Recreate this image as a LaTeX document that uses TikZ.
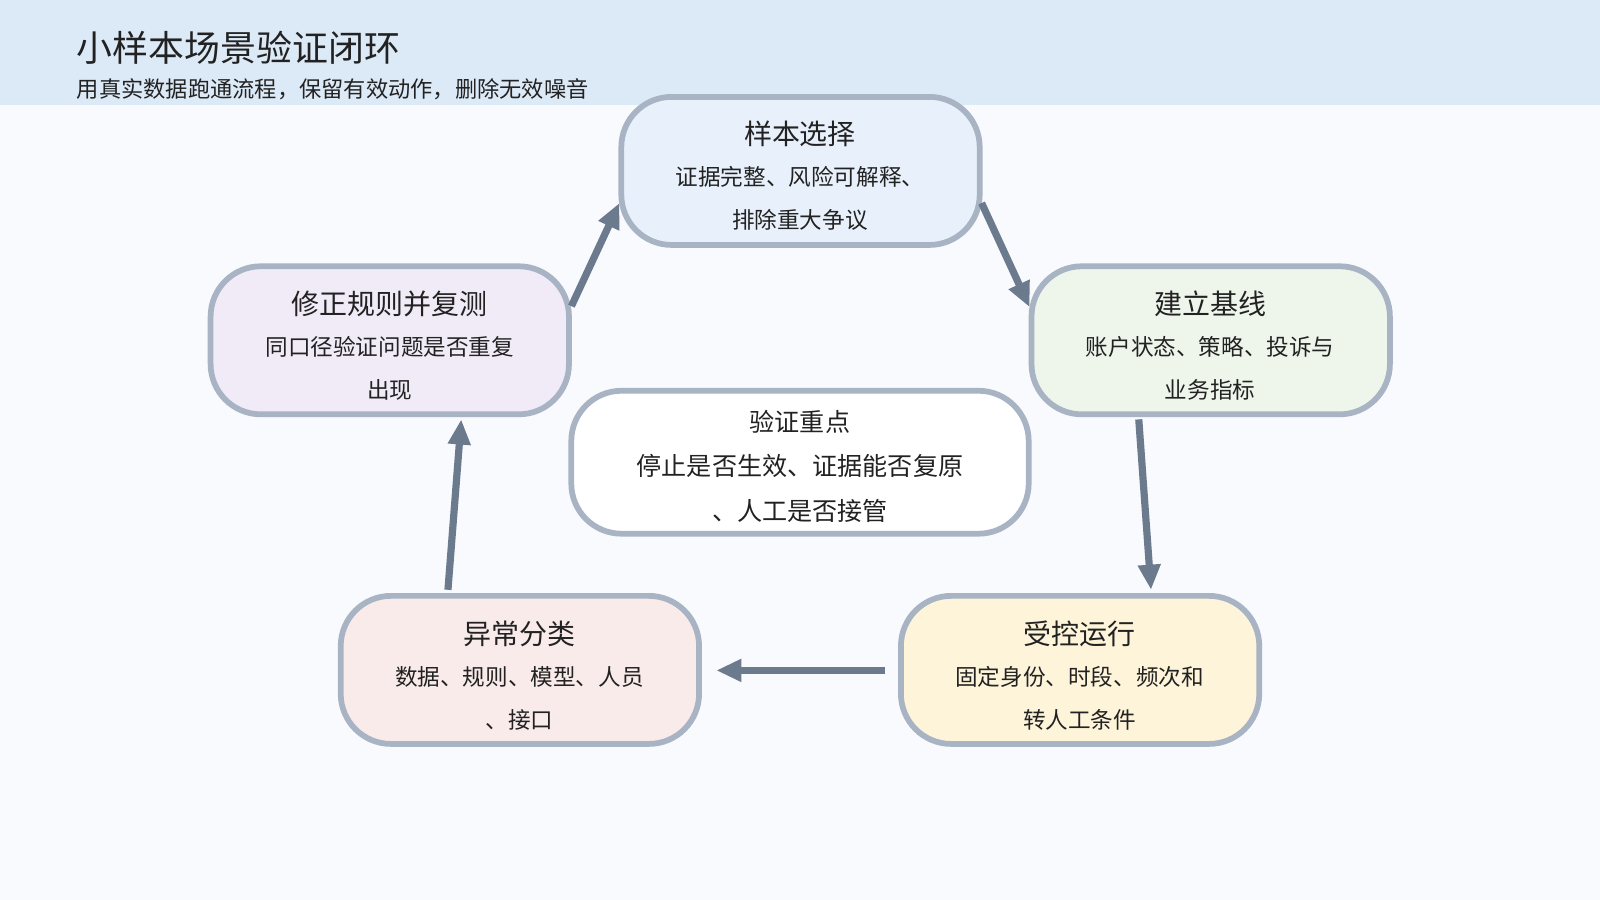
\documentclass[tikz,border=0pt]{standalone}
\usepackage{fontspec}
\setmainfont{Noto Sans CJK SC}
\usetikzlibrary{arrows.meta}
\definecolor{bg}{HTML}{F8FAFD}
\definecolor{band}{HTML}{DCE9F6}
\definecolor{bd}{HTML}{A8B3C3}
\definecolor{ar}{HTML}{6C7A8E}
\definecolor{txt}{HTML}{222222}
\definecolor{fa}{HTML}{E8F1FB}
\definecolor{fbb}{HTML}{EEF6EC}
\definecolor{fc}{HTML}{FEF4DA}
\definecolor{fd}{HTML}{FAEBEB}
\definecolor{fe}{HTML}{F1EBF8}
\tikzset{
 box/.style={draw=bd,line width=1.6pt,rounded corners=14pt,minimum width=3.51cm,minimum height=1.45cm,inner sep=0pt},
 lab/.style={text=txt,align=center,font=\fontsize{6.3pt}{12pt}\selectfont},
 head/.style={text=txt,font=\fontsize{7.8pt}{10pt}\selectfont},
 conn/.style={draw=ar,line width=2pt,-{Triangle[length=7pt,width=6pt]}}
}
\begin{document}
\begin{tikzpicture}[x=0.01cm,y=-0.01cm]
\fill[bg] (0,0) rectangle (1568,882);
\useasboundingbox (0,0) rectangle (1568,882);
\fill[band] (0,0) rectangle (1568,103);
\node[anchor=west,text=txt,font=\fontsize{10pt}{12pt}\selectfont] (title) at (63,47) {小样本场景验证闭环};
\node[anchor=west,text=txt,font=\fontsize{6.2pt}{8pt}\selectfont] (sub) at (63,87) {用真实数据跑通流程，保留有效动作，删除无效噪音};

\node[box,fill=fa] (a) at (784.5,167.5) {};
\node[box,fill=fbb] (b) at (1186.5,333.5) {};
\node[box,fill=fc] (c) at (1058.5,656.5) {};
\node[box,fill=fd] (d) at (509.5,656.5) {};
\node[box,fill=fe] (e) at (382,333.5) {};
\node[box,fill=white,minimum width=4.48cm,minimum height=1.4cm] (f) at (784,453) {};

\node[head] (at) at (784,131) {样本选择};
\node[lab] (ab) at (784,194) {证据完整、风险可解释、\\排除重大争议};
\node[head] (bt) at (1186,298) {建立基线};
\node[lab] (bb) at (1186,361) {账户状态、策略、投诉与\\业务指标};
\node[head] (ct) at (1058,621) {受控运行};
\node[lab] (cb) at (1058,684) {固定身份、时段、频次和\\转人工条件};
\node[head] (dt) at (509,621) {异常分类};
\node[lab] (db) at (509,684) {数据、规则、模型、人员\\、接口};
\node[head] (et) at (382,298) {修正规则并复测};
\node[lab] (eb) at (382,361) {同口径验证问题是否重复\\出现};
\node[lab,font=\fontsize{7pt}{12.5pt}\selectfont] (fb) at (784,457) {验证重点\\停止是否生效、证据能否复原\\、人工是否接管};

\coordinate (e1) at (560,300); \coordinate (a1) at (607,199);
\coordinate (a2) at (962,199); \coordinate (b1) at (1009,301);
\coordinate (b2) at (1116,411); \coordinate (c1) at (1128,578);
\coordinate (c2) at (867,657); \coordinate (d1) at (702,657);
\coordinate (d2) at (439,578); \coordinate (e2) at (452,411);
\draw[conn] (e1) -- (a1);
\draw[conn] (a2) -- (b1);
\draw[conn] (b2) -- (c1);
\draw[conn] (c2) -- (d1);
\draw[conn] (d2) -- (e2);
\end{tikzpicture}
\end{document}
